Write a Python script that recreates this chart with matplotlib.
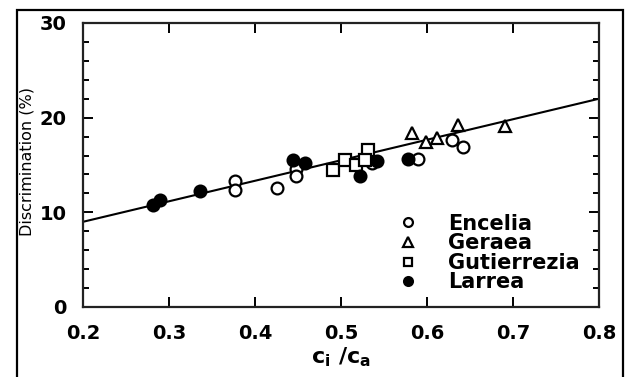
import matplotlib
matplotlib.use("Agg")
import matplotlib.pyplot as plt
from matplotlib.patches import Rectangle
from matplotlib.ticker import MultipleLocator

# data
encelia_x = [0.377, 0.377, 0.426, 0.448, 0.448, 0.536, 0.590, 0.629, 0.642]
encelia_y = [13.3, 12.4, 12.6, 14.6, 13.8, 15.2, 15.6, 17.6, 16.9]

geraea_x = [0.583, 0.599, 0.612, 0.636, 0.691]
geraea_y = [18.4, 17.4, 17.9, 19.2, 19.1]

gutierrezia_x = [0.491, 0.505, 0.517, 0.531, 0.528]
gutierrezia_y = [14.5, 15.5, 15.0, 16.6, 15.5]

larrea_x = [0.281, 0.290, 0.336, 0.444, 0.458, 0.522, 0.542, 0.578]
larrea_y = [10.8, 11.3, 12.3, 15.5, 15.2, 13.8, 15.4, 15.6]

fit_x = [0.2, 0.8]
fit_y = [9.0, 22.0]

x_ticks = [0.2, 0.3, 0.4, 0.5, 0.6, 0.7, 0.8]
y_ticks = [0, 10, 20, 30]

fig = plt.figure(figsize=(6.25, 3.77), dpi=100)

# outer frame of the panel
fig.patches.append(Rectangle((17 / 625, -0.05), 606 / 625, 1.05 - 10 / 377,
                             transform=fig.transFigure, fill=False,
                             edgecolor="black", linewidth=1.6))

ax = fig.add_axes([83 / 625, 70 / 377, 516 / 625, 284 / 377])

ax.plot(fit_x, fit_y, color="black", linewidth=1.5, zorder=2)

mk = dict(linestyle="none", markeredgecolor="black", markeredgewidth=1.6, zorder=3)
ax.plot(encelia_x, encelia_y, marker="o", markersize=8.5, markerfacecolor="white",
        label="Encelia", **mk)
ax.plot(geraea_x, geraea_y, marker="^", markersize=9, markerfacecolor="white",
        label="Geraea", **mk)
ax.plot(gutierrezia_x, gutierrezia_y, marker="s", markersize=8.5, markerfacecolor="white",
        label="Gutierrezia", **mk)
ax.plot(larrea_x, larrea_y, marker="o", markersize=8.5, markerfacecolor="black",
        label="Larrea", **mk)

ax.set_xlim(0.2, 0.8)
ax.set_ylim(0, 30)
ax.set_xticks(x_ticks)
ax.set_yticks(y_ticks)
ax.set_xticklabels(["0.2", "0.3", "0.4", "0.5", "0.6", "0.7", "0.8"])
ax.yaxis.set_minor_locator(MultipleLocator(2))

ax.tick_params(which="both", direction="in", top=True, right=True, width=1.4)
ax.tick_params(which="major", length=7, labelsize=14, pad=12)
ax.tick_params(which="minor", length=4)
for lab in ax.get_xticklabels() + ax.get_yticklabels():
    lab.set_fontweight("bold")
for sp in ax.spines.values():
    sp.set_linewidth(1.6)
    sp.set_color("#222222")

ax.set_xlabel("c$_\\mathregular{i}$ /c$_\\mathregular{a}$", fontsize=16,
              fontweight="bold", labelpad=2)
fig.text(27 / 625, 1 - 162 / 377, "Discrimination (%)", rotation=90,
         fontsize=11.5, ha="center", va="center")

leg = ax.legend(loc="lower right", bbox_to_anchor=(0.99, 0.0), frameon=False,
                prop={"weight": "bold", "size": 15},
                handlelength=1.0, handletextpad=1.4, labelspacing=-0.02,
                markerscale=0.75, borderpad=0.2)

fig.savefig("out.png", dpi=100)
